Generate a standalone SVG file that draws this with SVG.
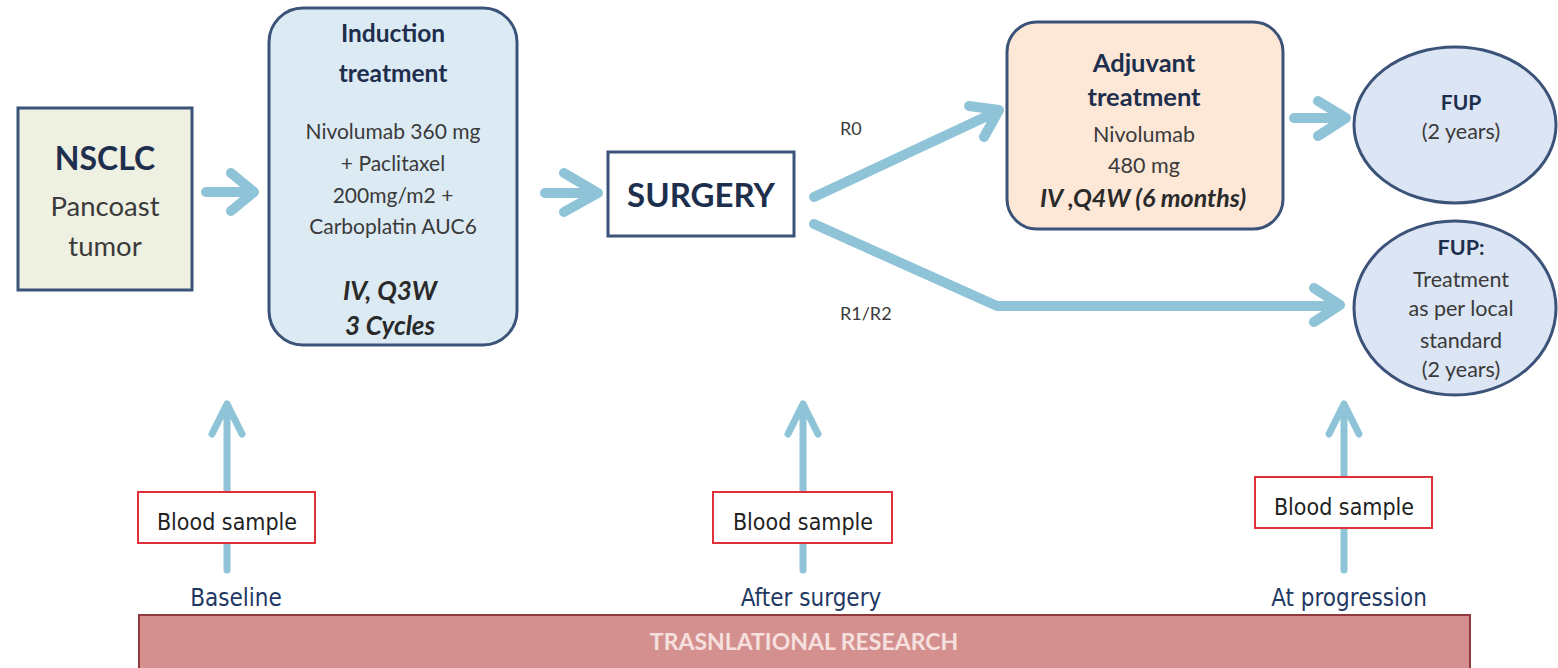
<svg xmlns="http://www.w3.org/2000/svg" width="1558" height="668" viewBox="0 0 1558 668">
<style>
.box{stroke:#3b5378;stroke-width:3}
.t{font-family:Lato,"Open Sans",sans-serif;text-anchor:middle}
.b{font-weight:bold;fill:#1e2f4d}
.n{fill:#3a3a3a}
.bi{font-weight:bold;font-style:italic;fill:#2a2a2a}
.arr{fill:none;stroke:#8fc4d8;stroke-linecap:round;stroke-linejoin:round}
.bs{fill:#fff;stroke:#e0303a;stroke-width:2}
.lab{font-family:"DejaVu Sans Condensed","DejaVu Sans",sans-serif;text-anchor:middle}
</style>
<rect width="1558" height="668" fill="#ffffff"/>
<g id="connectors">
<path class="arr" stroke-width="10" d="M206,192 H252 M231,173 L254,192 L231,211"/>
<path class="arr" stroke-width="10" d="M545,193 H597 M564,173 L598,193 L564,212"/>
<path class="arr" stroke-width="10" d="M1294,118 H1345 M1318,101 L1346,118 L1318,136"/>
<path class="arr" stroke-width="10" d="M814,197 L998,111 M969,106 L999,110 L984,137"/>
<path class="arr" stroke-width="10" d="M814,224 L997,306 H1338 M1314,288 L1340,305 L1314,322"/>
<path class="arr" stroke-width="7" d="M227,570 V405 M212,434 L227,404 L242,434"/>
<path class="arr" stroke-width="7" d="M803,570 V405 M788,434 L803,404 L818,434"/>
<path class="arr" stroke-width="7" d="M1344,570 V405 M1329,434 L1344,404 L1359,434"/>
</g>
<g id="nsclc">
<rect class="box" x="18" y="108" width="174" height="182" fill="#eef0e2"/>
<text class="t b" x="105" y="170" font-size="32">NSCLC</text>
<text class="t n" x="105" y="216" font-size="27.5">Pancoast</text>
<text class="t n" x="105" y="256" font-size="27.5">tumor</text>
</g>
<g id="induction">
<rect class="box" x="269" y="8" width="248" height="337" rx="34" fill="#dceaf4"/>
<text class="t b" x="393" y="42" font-size="24.5">Induction</text>
<text class="t b" x="393" y="82" font-size="24.5">treatment</text>
<text class="t n" x="393" y="139" font-size="21">Nivolumab 360 mg</text>
<text class="t n" x="393" y="171" font-size="21">+ Paclitaxel</text>
<text class="t n" x="393" y="203" font-size="21">200mg/m2 +</text>
<text class="t n" x="393" y="234" font-size="21">Carboplatin AUC6</text>
<text class="t bi" x="390" y="300" font-size="26">IV, Q3W</text>
<text class="t bi" x="390" y="335" font-size="26">3 Cycles</text>
</g>
<g id="surgery">
<rect class="box" x="608" y="152" width="186" height="84" fill="#ffffff"/>
<text class="t b" x="701" y="207" font-size="33">SURGERY</text>
</g>
<g id="r0label"><text class="n" font-family="Lato,sans-serif" x="840" y="135" font-size="18">R0</text></g>
<g id="r1label"><text class="n" font-family="Lato,sans-serif" x="840" y="320" font-size="18">R1/R2</text></g>
<g id="adjuvant">
<rect class="box" x="1007" y="22" width="276" height="207" rx="30" fill="#fde7d7"/>
<text class="t b" x="1144" y="72" font-size="25.5">Adjuvant</text>
<text class="t b" x="1144" y="106" font-size="25.5">treatment</text>
<text class="t n" x="1144" y="142" font-size="21.5">Nivolumab</text>
<text class="t n" x="1144" y="173" font-size="21.5">480 mg</text>
<text class="t bi" x="1143" y="207" font-size="25">IV ,Q4W (6 months)</text>
</g>
<g id="fup1">
<ellipse class="box" cx="1455" cy="125" rx="101" ry="78" fill="#dbe5f3"/>
<text class="t b" x="1461" y="110" font-size="21">FUP</text>
<text class="t n" x="1461" y="139" font-size="21.5">(2 years)</text>
</g>
<g id="fup2">
<ellipse class="box" cx="1455" cy="308" rx="101" ry="87" fill="#dbe5f3"/>
<text class="t b" x="1461" y="255" font-size="21.5">FUP:</text>
<text class="t n" x="1461" y="287" font-size="21.5">Treatment</text>
<text class="t n" x="1461" y="316" font-size="21.5">as per local</text>
<text class="t n" x="1461" y="348" font-size="21.5">standard</text>
<text class="t n" x="1461" y="377" font-size="21.5">(2 years)</text>
</g>
<g id="blood1">
<rect class="bs" x="138" y="492" width="177" height="51"/>
<text class="lab" x="227" y="530" font-size="23" fill="#222">Blood sample</text>
</g>
<g id="blood2">
<rect class="bs" x="713" y="492" width="179" height="51"/>
<text class="lab" x="803" y="530" font-size="23" fill="#222">Blood sample</text>
</g>
<g id="blood3">
<rect class="bs" x="1255" y="477" width="177" height="51"/>
<text class="lab" x="1344" y="515" font-size="23" fill="#222">Blood sample</text>
</g>
<g id="baseline"><text class="lab" x="236" y="606" font-size="24" fill="#1f3864">Baseline</text></g>
<g id="aftersurgery"><text class="lab" x="811" y="606" font-size="24" fill="#1f3864">After surgery</text></g>
<g id="atprogression"><text class="lab" x="1349" y="606" font-size="24" fill="#1f3864">At progression</text></g>
<g id="research">
<rect x="139" y="615" width="1331" height="55" fill="#d4908e" stroke="#8e3a3c" stroke-width="2"/>
<text class="t" x="804" y="650" font-size="23" font-weight="bold" fill="#f6e0df">TRASNLATIONAL RESEARCH</text>
</g>
</svg>
